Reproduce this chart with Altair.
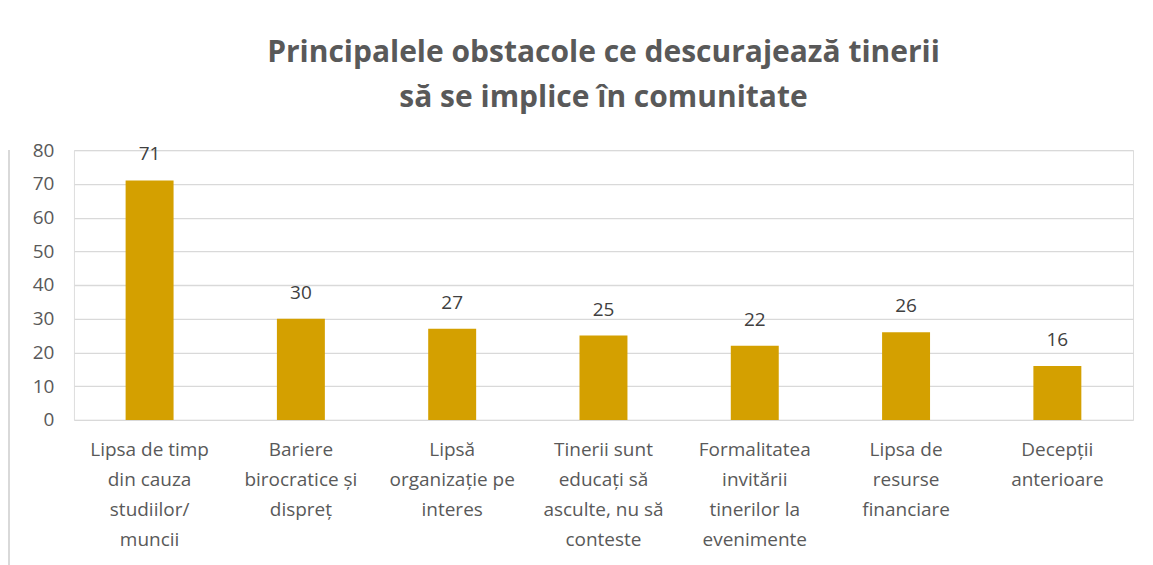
import altair as alt
import pandas as pd

title_lines = ["Principalele obstacole ce descurajează tinerii", "să se implice în comunitate"]

categories = [
    ["Lipsa de timp", "din cauza", "studiilor/", "muncii"],
    ["Bariere", "birocratice și", "dispreț"],
    ["Lipsă", "organizație pe", "interes"],
    ["Tinerii sunt", "educați să", "asculte, nu să", "conteste"],
    ["Formalitatea", "invitării", "tinerilor la", "evenimente"],
    ["Lipsa de", "resurse", "financiare"],
    ["Decepții", "anterioare"],
]
values = [71, 30, 27, 25, 22, 26, 16]
y_ticks = [0, 10, 20, 30, 40, 50, 60, 70, 80]

labels = ["|".join(c) for c in categories]
df = pd.DataFrame({"cat": labels, "val": values})

FONT = "Open Sans"
TFONT = "Open Sans"
GRAY = "#595959"

x = alt.X(
    "cat:N",
    sort=labels,
    title=None,
    scale=alt.Scale(paddingInner=0, paddingOuter=0),
    axis=alt.Axis(
        labelExpr="split(datum.label, '|')",
        labelAngle=0,
        labelFont=FONT,
        labelFontSize=19,
        labelColor=GRAY,
        labelLineHeight=30,
        labelPadding=21,
        labelBaseline="top",
        domain=False,
        ticks=False,
        labelLimit=200,
    ),
)
y = alt.Y(
    "val:Q",
    title=None,
    scale=alt.Scale(domain=[0, 80], nice=False),
    axis=alt.Axis(
        values=y_ticks,
        labelFont=FONT,
        labelFontSize=19,
        labelColor=GRAY,
        labelPadding=20,
        domain=False,
        ticks=False,
        gridColor="#d9d9d9",
        gridWidth=1.3,
    ),
)

base = alt.Chart(df)
bars = base.mark_bar(size=48, color="#D4A000").encode(x=x, y=y)
text = base.mark_text(dy=-16, font=FONT, fontSize=19, color="#404040", baseline="bottom").encode(
    x=x, y=y, text=alt.Text("val:Q")
)

frame_left = alt.Chart(df).mark_rule(color="#d9d9d9", strokeWidth=2).encode(
    x=alt.value(-65), y=alt.value(0), y2=alt.value(420)
)

chart = (
    alt.layer(frame_left, bars, text)
    .properties(
        width=1060,
        height=270,
        padding={"left": 0, "top": 30, "right": 12, "bottom": 0},
        title=alt.TitleParams(
            text=title_lines,
            font=TFONT,
            fontSize=30,
            fontWeight="bold",
            color=GRAY,
            anchor="middle",
            lineHeight=45,
            offset=28,
        ),
    )
    .configure_view(strokeWidth=0)
    .configure(background="white")
)

chart.save("out.html", embed_options={"renderer": "svg", "actions": False})
